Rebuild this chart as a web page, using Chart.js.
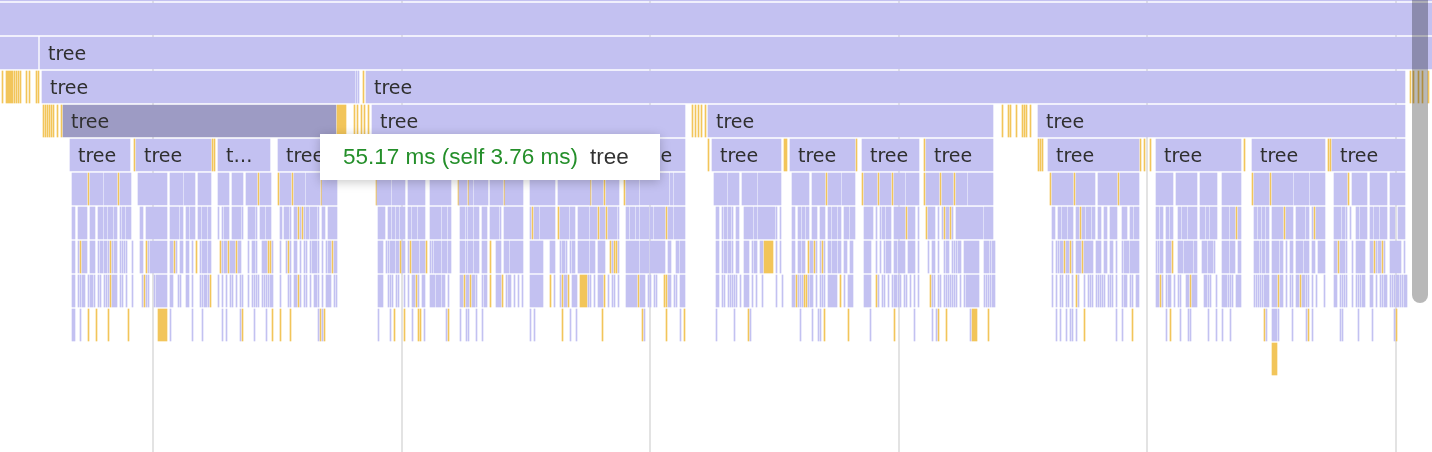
<!DOCTYPE html>
<html>
<head>
<meta charset="utf-8">
<script src="https://cdn.jsdelivr.net/npm/chart.js@4/dist/chart.umd.min.js"></script>
<style>
	body { margin: 0; background: #fff; }
	#wrap { position: relative; width: 1432px; height: 452px; overflow: hidden; }
	#flame { position: absolute; left: 0; top: -32px; }
	#scroll { position: absolute; left: 1412px; top: 0; width: 16px; height: 303px;
		background: rgba(0, 0, 0, 0.28); border-radius: 0 0 8px 8px; }
	#tip { position: absolute; left: 320px; top: 134px; width: 317px; height: 46px;
		padding-left: 23px; background: #fff; box-shadow: 0 2px 10px rgba(0, 0, 0, 0.22);
		font: 22.5px "Liberation Sans", Arial, sans-serif; line-height: 46px; white-space: nowrap; }
	#tip .dur { color: #248f2a; }
	#tip .name { color: #333; margin-left: 12px; }
</style>
</head>
<body>
<div id="wrap">
	<canvas id="flame" width="1432" height="510"></canvas>
	<div id="scroll"></div>
	<div id="tip"><span class="dur">55.17 ms (self 3.76 ms)</span><span class="name">tree</span></div>
</div>
<script>
/* stack depth rows, top to bottom */
const rowNames = ["-1", "0", "1", "2", "3", "4", "5", "6", "7", "8", "9", "10", "11", "12", "13"];
/* vertical time grid */
const gridTicks = [153, 401.5, 650, 898.5, 1147, 1396];
const frameName = "tree";
const labelRows = ["1", "2", "3", "4"];

/* a number is a 1px sliver, a pair is [start, end] */
const rowM1Blue = [[0, 1432]];
const row0Blue = [[0, 1432]];
const row1Blue = [[0, 38], [40, 1432]];
const row2Blue = [[42, 355], 356, 358, [366, 1405]];
const row2Gold = [2, [6, 13], 14, 16, 18, 20, 26, 29, 36, 38, 363, 1410, 1413, 1418, 1422, 1428];
const row3Blue = [[372, 685], [708, 993], [1038, 1405]];
const row3Hover = [[63, 336]];
const row3Gold = [43, 45, 47, 49, 51, 53, 57, 61, [337, 346], 354, 357, 361, 364, 368,
	692, 695, 698, 701, 705, 1002, 1008, 1010, 1016, 1022, 1024, 1026, 1030];
const row4Blue = [[70, 130], [136, 211], [218, 270], [278, 337], [376, 451], [458, 523], [530, 619], [626, 685],
	[712, 781], [790, 855], [862, 919], [926, 993], [1048, 1139], [1156, 1241], [1252, 1325], [1332, 1405]];
const row4Gold = [134, 212, 214, 374, 456, 528, 624, 708, [784, 787], 856, 924, 1038, 1040, 1042,
	1140, 1144, 1150, 1244, 1328, 1330];
const row5Blue = [[72, 87], [90, 103], [104, 117], [120, 131], [138, 167], [170, 183], [184, 195], [198, 211],
	[218, 229], [232, 243], [246, 257], [260, 271], [280, 291], [294, 305], [306, 320], [322, 337],
	[377, 391], [392, 405], [408, 425], [430, 451], [459, 467], [469, 473], [474, 488], [490, 503], [505, 523],
	[530, 555], [558, 590], [592, 603], [606, 619], [626, 639], [640, 669], [670, 673], [674, 685],
	[714, 727], [728, 739], [742, 757], [758, 781], [792, 809], [812, 825], [828, 841], [842, 855],
	[864, 877], [880, 891], [894, 905], [906, 919], [926, 939], [942, 953], [956, 967], [968, 993],
	[1052, 1073], [1076, 1095], [1098, 1117], [1120, 1139], [1156, 1173], [1176, 1197], [1200, 1217], [1222, 1241],
	[1254, 1269], [1272, 1293], [1294, 1309], [1310, 1325], [1334, 1347], [1352, 1367], [1370, 1387], [1390, 1405]];
const row5Gold = [88, 118, 258, 278, 292, 321, 376, 458, 468, 504, 590, 604, 624, 826, 862, 878, 892,
	924, 940, 954, 1050, 1074, 1118, 1252, 1270, 1348];
const row6Blue = [[72, 75], [78, 87], [90, 95], [98, 103], [104, 107], [108, 113], [114, 117], 120, [122, 125], [126, 131],
	[140, 143], [146, 167], [170, 179], [180, 183], [186, 189], [190, 195], [198, 201], [202, 207], [208, 211],
	218, 222, [224, 229], [232, 241], 242, [248, 255], 256, [260, 265], [266, 271],
	[280, 282], [284, 289], 290, [294, 297], 300, 304, [306, 309], [310, 317], 318, [322, 325], [328, 337],
	[378, 385], [388, 391], [392, 395], [396, 399], [400, 405], [408, 411], [412, 417], [418, 425],
	[430, 441], [442, 447], [448, 451], [460, 465], 466, [468, 473], [474, 479], [482, 487], [490, 499], 500, [504, 523],
	530, [534, 539], [540, 555], [560, 569], [570, 575], [578, 589], [590, 597], [600, 605], [608, 617], 618,
	[626, 629], [630, 635], [636, 639], [640, 649], [650, 653], [654, 665], [668, 673], [674, 685],
	[716, 719], 722, [724, 727], [728, 731], 732, [736, 739], [744, 753], [754, 757], [758, 775], 776, 780,
	[792, 795], [798, 801], [802, 805], [806, 809], [812, 817], [820, 825], [828, 831], [832, 837], [838, 841],
	[844, 849], [850, 855], [864, 873], 876, 880, [882, 885], [886, 891], [894, 905], [908, 915], 918,
	[928, 935], 938, 942, [946, 949], 952, [956, 983], [984, 993],
	[1052, 1055], [1058, 1061], [1062, 1067], [1068, 1073], [1076, 1079], [1082, 1085], [1086, 1091], [1092, 1095],
	[1098, 1101], [1104, 1107], [1110, 1117], [1122, 1127], [1130, 1133], [1134, 1139],
	[1156, 1159], [1160, 1163], [1166, 1169], [1170, 1173], [1178, 1181], [1182, 1187], [1188, 1197], [1200, 1205],
	[1206, 1209], [1210, 1217], [1222, 1229], [1230, 1235], [1238, 1241],
	[1254, 1257], [1258, 1261], [1262, 1265], [1266, 1269], [1272, 1283], [1286, 1293], [1296, 1305], [1306, 1309],
	1312, [1316, 1325], [1334, 1341], [1342, 1345], 1346, 1350, [1356, 1359], [1360, 1367], [1370, 1373],
	[1374, 1379], [1380, 1387], [1390, 1395], [1398, 1405]];
const row6Gold = [298, 302, 532, 558, 598, 606, 666, 906, 926, 944, 950, 1080, 1236, 1284, 1314];
const row7Blue = [[72, 75], 78, [82, 87], [90, 95], 98, [100, 103], [104, 107], 108, 112, [114, 117], 120, 122, 124, 126, 132,
	[140, 143], 148, [150, 167], [170, 173], 176, [180, 183], [186, 189], 192, 200, [202, 207], [208, 211],
	222, [224, 227], [230, 235], [238, 241], 248, [252, 255], 256, [262, 267], 272,
	280, 286, 290, [294, 297], 300, 304, 306, 310, [312, 317], 318, 322, 326, [328, 331], [334, 337],
	[378, 383], 386, 388, [390, 395], [396, 399], [402, 405], 408, [412, 419], [420, 425], 430, 432,
	[434, 441], [442, 447], [448, 451], [460, 465], 466, [468, 473], [474, 479], [482, 487], [496, 501],
	[504, 509], [510, 523], [530, 543], [550, 555], 560, [562, 565], 566, 570, [572, 575], [578, 589],
	[590, 595], [598, 605], 612, 618, [626, 639], [640, 649], [650, 665], [668, 671], [676, 679], [680, 685],
	[716, 719], 722, [724, 727], [728, 731], 732, [736, 739], [744, 749], 752, [754, 757], [760, 763], 776, 780,
	[792, 795], [798, 801], [802, 805], [810, 813], 816, 820, 824, [828, 831], [832, 837], [838, 841],
	[844, 847], [850, 853], [864, 871], 876, 880, 884, [886, 891], [894, 897], [898, 905], [908, 915], 918,
	928, [932, 935], 938, 944, [946, 949], 952, 954, 956, [958, 961], [964, 979], [984, 989], 990, [992, 995],
	1052, 1056, 1058, [1060, 1063], [1066, 1069], 1072, [1076, 1081], [1084, 1093], [1096, 1101],
	[1104, 1107], [1110, 1113], 1116, 1122, [1124, 1129], [1130, 1139],
	1156, 1158, [1160, 1163], [1166, 1171], [1178, 1183], [1184, 1193], [1194, 1197], [1202, 1207],
	[1208, 1213], 1214, [1222, 1229], [1230, 1235], [1238, 1241],
	[1254, 1259], 1260, [1262, 1265], [1266, 1269], [1272, 1279], [1280, 1283], 1286, [1290, 1293],
	[1296, 1303], [1304, 1309], [1312, 1315], [1318, 1325],
	[1334, 1337], [1340, 1345], 1346, 1352, [1356, 1365], [1370, 1373], 1376, [1378, 1381], 1384, [1390, 1401], 1404];
const row7Gold = [80, 110, 146, 174, 196, 220, 228, 236, 268, 270, 288, 332, 400, 410, 426, 490, 610, 614, 616,
	[764, 773], 808, 814, 822, 1064, 1070, 1082, 1172, 1338, 1374, 1382];
const row8Blue = [[72, 75], 78, 80, [82, 85], 88, [90, 93], 94, 98, 100, 104, 106, 108, [112, 117], 120, 122, 126, 132,
	142, 146, 148, 154, [156, 167], [170, 173], 178, 180, [186, 189], 192, 200, 202, [204, 207], 208,
	218, 222, 226, 230, 232, 236, 240, 242, 248, 252, 254, 256, 258, 262, 264, 266, 268, [270, 273],
	280, 288, 290, [294, 297], 300, 304, 306, 310, [314, 317], 318, 322, [326, 331], 334, 336,
	[378, 383], 388, 390, 392, 396, 398, 404, 408, [412, 415], 418, [422, 425], [430, 435], [436, 441], [442, 445], 448,
	[460, 463], [466, 469], [472, 475], 476, 482, [484, 487], [496, 501], 506, [508, 511], 514, 518, 522,
	[530, 543], 554, 560, [564, 567], [572, 577], 588, 590, 594, [598, 603], 608, 612, 614, 618,
	[626, 637], [640, 645], 648, 650, 654, 656, [668, 671], 674, 676, [680, 685],
	[716, 719], 722, 724, 728, 730, 732, 734, 736, 740, [744, 749], 752, 756, 762, 776, 782,
	[792, 795], 798, 800, 802, 808, [810, 813], 816, 820, 822, 824, [828, 837], 844, [848, 853],
	[864, 871], 878, 882, 884, 888, 892, [894, 897], 898, 900, 904, 906, 910, 914, 918,
	932, 934, 938, 940, 944, 946, 948, 950, 952, 954, 956, 960, 964, [966, 979], 984, 986, 988, 990, [992, 995],
	1052, 1056, 1060, 1062, 1066, 1068, 1072, 1078, 1084, 1088, 1090, 1092, 1096, 1098, 1100, 1102, 1104,
	1108, 1110, 1112, 1116, 1122, [1124, 1127], 1130, 1132, [1136, 1139],
	[1156, 1159], 1162, 1166, [1168, 1171], 1174, 1178, 1180, [1186, 1189], [1192, 1197], [1204, 1207], 1208,
	1210, 1216, [1222, 1227], 1228, 1230, 1232, [1236, 1241],
	1254, 1256, 1258, 1260, 1262, [1264, 1269], [1272, 1277], [1280, 1283], 1286, 1290, 1292, [1296, 1299],
	[1302, 1305], 1306, 1308, 1312, 1316, 1324,
	[1334, 1337], 1340, 1342, 1344, 1346, 1352, 1356, 1358, 1360, [1362, 1365], [1370, 1373], 1376, 1380, 1382,
	[1384, 1387], 1390, 1392, 1394, [1396, 1399], 1400, 1402, [1404, 1407]];
const row8Gold = [110, 144, 210, 298, 416, 464, 470, 490, 502, 550, 562, 568, [580, 587], 604, 638, 664, 666,
	796, 804, 806, 840, 876, 930, 1076, 1160, 1190, 1278, 1300];
const row9Blue = [[72, 75], 80, 170, 192, 202, 222, 226, 240, 254, 266, 318, 322,
	378, 390, 412, 424, 446, 460, 466, 468, 476, 482, 530, 534, 570, 576, 644, 680,
	716, 734, 750, 800, 812, 818, 820, 870, 914, 932, 936, 970,
	1056, 1060, 1066, 1070, 1072, 1076, 1116, 1122, 1166, 1180, 1188, 1190, 1208, 1216, 1222, 1230,
	1266, [1272, 1277], 1278, 1292, 1306, 1312, 1340, 1342, 1358, 1372, 1394];
const row9Gold = [88, 96, 108, 128, [158, 167], 242, 272, 280, 290, 320, 324, 394, 404, 418, 420, 448,
	562, 602, 642, 666, 684, 748, 824, 848, 894, 938, 946, [972, 977], 988, 1084, 1132, 1170, 1264, 1308, 1396];
const row10Gold = [[1272, 1277]];

const blueRows = { "-1": rowM1Blue, "0": row0Blue, "1": row1Blue, "2": row2Blue, "3": row3Blue, "4": row4Blue,
	"5": row5Blue, "6": row6Blue, "7": row7Blue, "8": row8Blue, "9": row9Blue };
const goldRows = { "2": row2Gold, "3": row3Gold, "4": row4Gold, "5": row5Gold, "6": row6Gold,
	"7": row7Gold, "8": row8Gold, "9": row9Gold, "10": row10Gold };
const hoverRows = { "3": row3Hover };

function toBars(rows) {
	const out = [];
	Object.keys(rows).forEach((row) => {
		rows[row].forEach((v) => {
			out.push({ y: row, x: Array.isArray(v) ? v : [v, v + 1] });
		});
	});
	return out;
}

/* draws the frame name inside wide enough bars */
const frameLabels = {
	id: "frameLabels",
	afterDatasetsDraw(chart) {
		const ctx = chart.ctx;
		ctx.save();
		ctx.font = '19px "DejaVu Sans", sans-serif';
		ctx.fillStyle = "#2f2f2f";
		ctx.textBaseline = "middle";
		chart.data.datasets.forEach((ds, i) => {
			if (!ds.labelled) return;
			chart.getDatasetMeta(i).data.forEach((bar, j) => {
				if (!labelRows.includes(ds.data[j].y)) return;
				const left = Math.min(bar.x, bar.base);
				const room = Math.abs(bar.x - bar.base) - 18;
				let text = frameName;
				if (ctx.measureText(text).width > room) {
					let n = text.length - 1;
					while (n > 0 && ctx.measureText(text.slice(0, n) + "…").width > room) n--;
					if (n === 0) return;
					text = text.slice(0, n) + "…";
				}
				ctx.fillText(text, left + 8, bar.y + 2);
			});
		});
		ctx.restore();
	},
};

new Chart(document.getElementById("flame"), {
	type: "bar",
	data: {
		labels: rowNames,
		datasets: [
			{ data: toBars(blueRows), backgroundColor: "#c3c1f1", labelled: true },
			{ data: toBars(goldRows), backgroundColor: "#f2c55a" },
			{ data: toBars(hoverRows), backgroundColor: "#9d9bc4", labelled: true },
		],
	},
	options: {
		indexAxis: "y",
		responsive: false,
		animation: false,
		events: [],
		layout: { padding: 0 },
		datasets: {
			bar: { grouped: false, barThickness: 32, borderWidth: 0, borderSkipped: false },
		},
		plugins: { legend: { display: false }, tooltip: { enabled: false } },
		scales: {
			x: {
				type: "linear",
				min: 0,
				max: 1432,
				z: 1,
				afterBuildTicks: (scale) => {
					scale.ticks = gridTicks.map((v) => ({ value: v }));
				},
				ticks: { display: false },
				border: { display: false },
				grid: { color: "rgba(0, 0, 0, 0.11)", lineWidth: 2, drawTicks: false },
			},
			y: { type: "category", display: false },
		},
	},
	plugins: [frameLabels],
});
</script>
</body>
</html>
